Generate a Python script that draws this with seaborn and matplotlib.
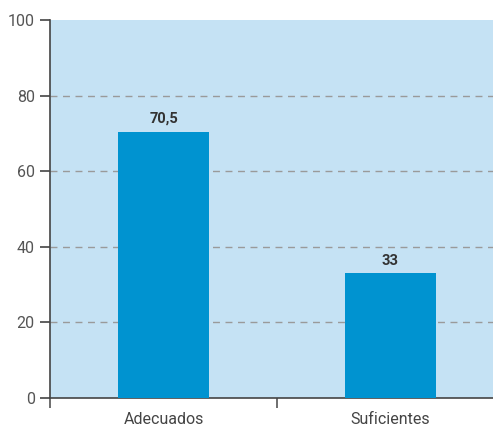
import matplotlib
matplotlib.use("Agg")
import matplotlib.pyplot as plt
import seaborn as sns
import pandas as pd

# Datos del gráfico
categorias = ["Adecuados", "Suficientes"]
valores = [70.5, 33]
etiquetas = ["70,5", "33"]

df = pd.DataFrame({"cat": categorias, "val": valores})

sns.set_style("white", {"xtick.bottom": True, "ytick.left": True})
plt.rcParams['font.family'] = ['Roboto', 'DejaVu Sans']

fig = plt.figure(figsize=(4.93, 4.30), dpi=100)
ax = fig.add_axes([50 / 493, 1 - 398 / 430, 454 / 493, 378 / 430])
ax.set_facecolor("#c5e2f4")

sns.barplot(data=df, x="cat", y="val", color="#0093d0", width=0.4,
            saturation=1, linewidth=0, ax=ax)
for p in ax.patches:
    p.set_zorder(3)
    p.set_edgecolor("none")

ax.set_ylim(0, 100)
ax.set_xlim(-0.5, 1.5)
ax.set_yticks([0, 20, 40, 60, 80, 100])
for y in [20, 40, 60, 80]:
    ax.axhline(y, color="#9a9a9a", linestyle=(0, (5, 4)), linewidth=1, zorder=1)

for i, (v, t) in enumerate(zip(valores, etiquetas)):
    ax.text(i, v + 1.5, t, ha="center", va="bottom", fontsize=10.5,
            fontweight="bold", color="#333333", zorder=4)

ax.set_xlabel("")
ax.set_ylabel("")
ax.set_xticks([0, 1])
ax.set_xticklabels(categorias, fontsize=11.5, color="#444444")
ax.tick_params(axis="x", which="major", length=0, pad=10, bottom=True)
ax.set_xticks([-0.5, 0.5, 1.5], minor=True)
ax.tick_params(axis="x", which="minor", length=7, width=1.2, color="#555555",
               direction="out", bottom=True)

ax.tick_params(axis="y", which="major", length=7, width=1.2, color="#444444",
               labelsize=11.5, labelcolor="#555555", left=True, pad=4,
               direction="out")

for s in ["top", "right"]:
    ax.spines[s].set_visible(False)
ax.spines["left"].set_color("#444444")
ax.spines["bottom"].set_color("#444444")
ax.spines["left"].set_linewidth(1.2)
ax.spines["bottom"].set_linewidth(1.2)

fig.savefig("out.png", dpi=100)
